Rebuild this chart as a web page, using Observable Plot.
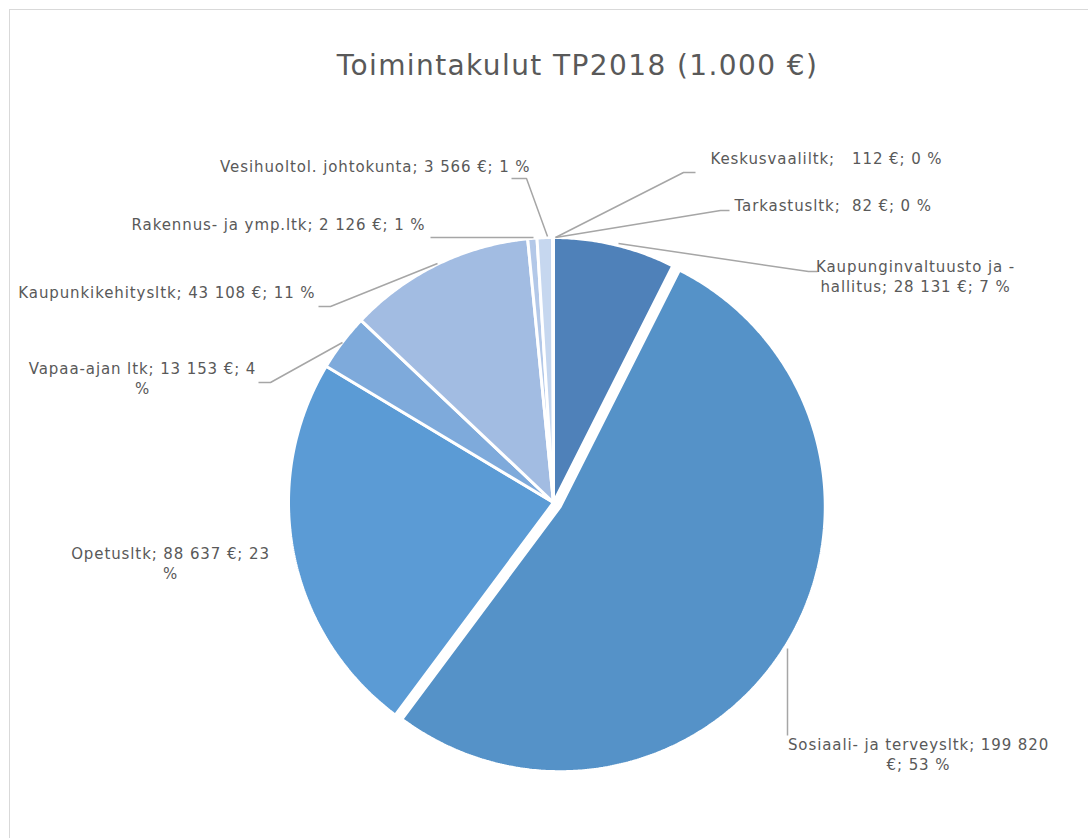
<!DOCTYPE html>
<html><head><meta charset="utf-8">
<script src="https://cdn.jsdelivr.net/npm/d3@7"></script>
<script src="https://cdn.jsdelivr.net/npm/@observablehq/plot@0.6"></script>
<style>
body{margin:0;background:#fff;font-family:"DejaVu Sans",sans-serif;}
#wrap{position:relative;width:1088px;height:838px;overflow:hidden;}
#border{position:absolute;left:9px;top:9px;width:1100px;height:850px;border:1px solid #d9d9d9;}
#title{position:absolute;left:0;top:46px;width:1155px;text-align:center;font-family:"DejaVu Sans",sans-serif;font-size:28px;letter-spacing:1.4px;line-height:40px;color:#595959;margin:0;font-weight:normal;}
#chart{position:absolute;left:0;top:0;}
#chart svg text{letter-spacing:0.9px;}
</style></head>
<body><div id="wrap"><div id="border"></div><div id="chart"></div><h1 id="title">Toimintakulut TP2018 (1.000 €)</h1></div>
<script>
// ---- data ----
const categories = ["Kaupunginvaltuusto ja -hallitus", "Sosiaali- ja terveysltk", "Opetusltk", "Vapaa-ajan ltk", "Kaupunkikehitysltk", "Rakennus- ja ymp.ltk", "Vesihuoltol. johtokunta", "Keskusvaaliltk", "Tarkastusltk"];
const values = [28131, 199820, 88637, 13153, 43108, 2126, 3566, 112, 82];
const percents = [7, 53, 23, 4, 11, 1, 1, 0, 0];
const labels = [
  "Kaupunginvaltuusto ja -\nhallitus; 28 131 €; 7 %",
  "Sosiaali- ja terveysltk; 199 820\n€; 53 %",
  "Opetusltk; 88 637 €; 23\n%",
  "Vapaa-ajan ltk; 13 153 €; 4\n%",
  "Kaupunkikehitysltk; 43 108 €; 11 %",
  "Rakennus- ja ymp.ltk; 2 126 €; 1 %",
  "Vesihuoltol. johtokunta; 3 566 €; 1 %",
  "Keskusvaaliltk;\u00a0\u00a0 112 €; 0 %",
  "Tarkastusltk;\u00a0 82 €; 0 %"
];

// ---- styles / layout ----
const colors = ["#4f81b9", "#5592c8", "#5b9bd5", "#7eaadb", "#a2bce2", "#b3c8e8", "#c6d7ef", "#d3e0f2", "#dde7f5"];
const explode = [0, 0.03, 0, 0, 0, 0, 0, 0, 0];
const cx = 553, cy = 502, R = 265, W = 1088, H = 838;
// label anchor in pixels: [x, y, textAnchor]
const labelPos = [
  [915, 275, "middle"],
  [918, 753, "middle"],
  [170, 562, "middle"],
  [142, 377, "middle"],
  [315, 291, "end"],
  [425, 223, "end"],
  [530, 165, "end"],
  [710, 157, "start"],
  [734, 204, "start"]
];
const leaderPx = [
  [[817, 271], [808, 271], [618, 243]],
  [[787, 648], [787, 735]],
  null,
  [[258, 382], [270, 382], [342, 342]],
  [[318, 306], [330, 306], [437, 263]],
  [[430, 237], [533, 237]],
  [[511, 178], [526, 178], [547, 236]],
  [[695, 172], [683, 172], [555, 237]],
  [[729, 210], [720, 210], [555, 237]]
];

const ux = px => (px - cx) / R, uy = py => (py - cy) / R;

const table = categories.map((c, i) => ({cat: c, value: values[i], pct: percents[i], label: labels[i], i}));
const arcs = d3.pie().sort(null).value(d => d.value).startAngle(0).endAngle(2 * Math.PI)(table);

const slicePts = [];
arcs.forEach(a => {
  const d = a.data, mid = (a.startAngle + a.endAngle) / 2, e = explode[d.i];
  const ox = Math.sin(mid) * e, oy = -Math.cos(mid) * e;
  const n = Math.max(2, Math.ceil((a.endAngle - a.startAngle) / (Math.PI / 360)));
  slicePts.push({cat: d.cat, x: ox, y: oy});
  for (let k = 0; k <= n; k++) {
    const t = a.startAngle + (a.endAngle - a.startAngle) * k / n;
    slicePts.push({cat: d.cat, x: ox + Math.sin(t), y: oy - Math.cos(t)});
  }
  slicePts.push({cat: d.cat, x: ox, y: oy});
});

const leaderPts = [];
leaderPx.forEach((pts, i) => { if (pts) pts.forEach(p => leaderPts.push({cat: categories[i], x: ux(p[0]), y: uy(p[1])})); });

const labelData = table.map(d => ({...d, x: ux(labelPos[d.i][0]), y: uy(labelPos[d.i][1]), anchor: labelPos[d.i][2]}));

const textOpts = anchor => ({
  filter: d => d.anchor === anchor, x: "x", y: "y", text: "label", textAnchor: anchor,
  fill: "#595959", fontSize: 15, lineHeight: 1.37
});

const chart = Plot.plot({
  width: W, height: H, margin: 0,
  x: {domain: [ux(0), ux(W)], range: [0, W], axis: null},
  y: {domain: [uy(0), uy(H)], range: [0, H], axis: null},
  color: {domain: categories, range: colors},
  style: {background: "transparent", fontFamily: "'DejaVu Sans', sans-serif", overflow: "visible"},
  marks: [
    Plot.line(slicePts, {x: "x", y: "y", z: "cat", fill: "cat", stroke: "white", strokeWidth: 3, strokeLinejoin: "miter", curve: "linear"}),
    Plot.line(leaderPts, {x: "x", y: "y", z: "cat", stroke: "#a6a6a6", strokeWidth: 1.5, strokeLinecap: "butt", strokeLinejoin: "miter"}),
    Plot.text(labelData, textOpts("middle")),
    Plot.text(labelData, textOpts("start")),
    Plot.text(labelData, textOpts("end"))
  ]
});
document.getElementById("chart").appendChild(chart);
</script>
</body></html>
